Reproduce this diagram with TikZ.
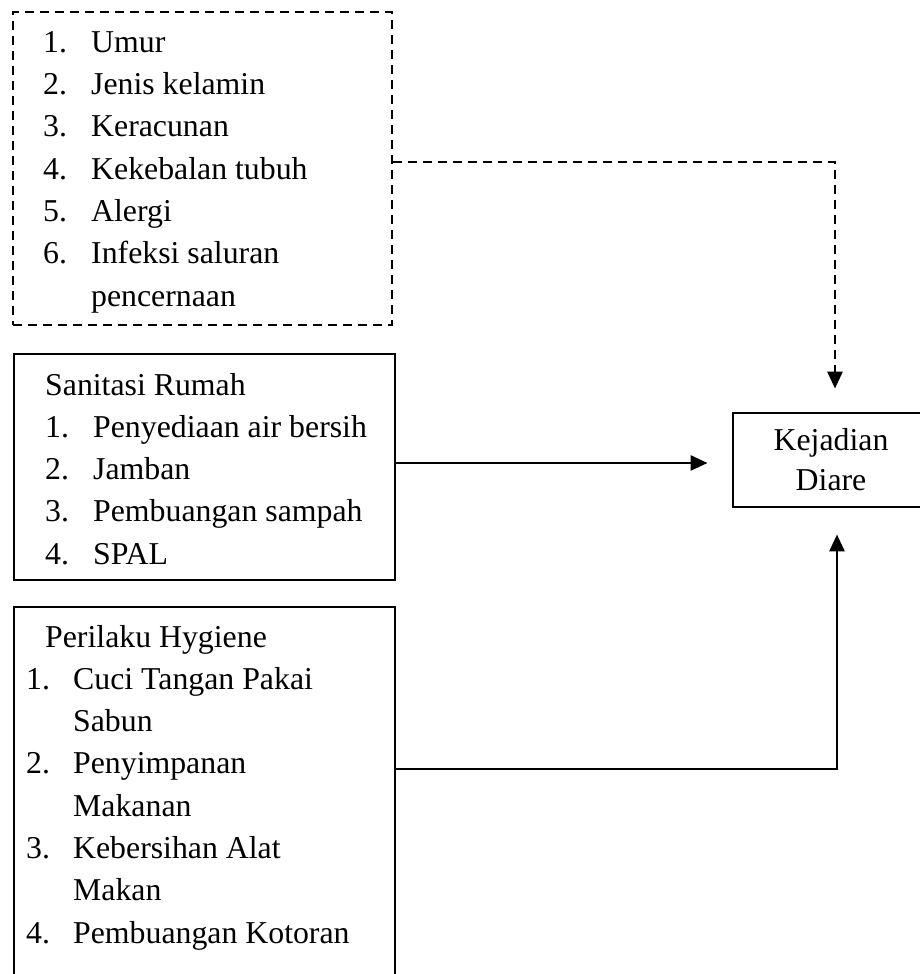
\documentclass[tikz,border=0pt]{standalone}
\usepackage{fontspec}
\setmainfont{Liberation Serif}
\usetikzlibrary{arrows.meta}

\newcommand\listfont{\fontsize{31.8}{42.3}\selectfont}
\newcommand\boxfont{\fontsize{31.8}{40}\selectfont}

\tikzset{
  boxline/.style={draw,line width=2.9pt,inner sep=0pt},
  dashline/.style={line width=2.9pt,dash pattern=on 9pt off 6pt},
  solidline/.style={line width=2.9pt},
  listtext/.style={inner sep=0pt,font=\listfont},
  arrowtip/.style={-{Triangle[length=17pt,width=15pt]}},
}

\begin{document}
\begin{tikzpicture}[x=1pt,y=-1pt]
        \useasboundingbox (0,0) rectangle (920,974);
        \clip (0,0) rectangle (920,974);
        % boxes
        \node[boxline,dashline,minimum width=379pt,minimum height=313pt] (faktor) at (202.5,168.5) {};
        \node[boxline,minimum width=381pt,minimum height=226pt] (sanitasi) at (204.5,467) {};
        \node[boxline,minimum width=381pt,minimum height=400pt] (perilaku) at (204.5,807) {};
        \node[boxline,minimum width=196pt,minimum height=94pt,font=\boxfont,align=center] (kejadian) at (831,460) {Kejadian\\Diare};
        % lists
        \node[listtext,anchor=base west] (faktorlist) at (43,52.3) {\begin{tabular}[t]{@{}p{48pt}@{}l@{}}
            1. & Umur\\
            2. & Jenis kelamin\\
            3. & Keracunan\\
            4. & Kekebalan tubuh\\
            5. & Alergi\\
            6. & Infeksi saluran\\
               & pencernaan
        \end{tabular}};
        \node[listtext,anchor=base west] (sanitasilist) at (45,395) {\begin{tabular}[t]{@{}p{48pt}@{}l@{}}
            \multicolumn{2}{@{}l@{}}{Sanitasi Rumah}\\
            1. & Penyediaan air bersih\\
            2. & Jamban\\
            3. & Pembuangan sampah\\
            4. & SPAL
        \end{tabular}};
        \node[listtext,anchor=base west] (perilakulist) at (26,647) {\begin{tabular}[t]{@{}p{47pt}@{}l@{}}
            \multicolumn{2}{@{\hspace{19pt}}l@{}}{Perilaku Hygiene}\\
            1. & Cuci Tangan Pakai\\
               & Sabun\\
            2. & Penyimpanan\\
               & Makanan\\
            3. & Kebersihan Alat\\
               & Makan\\
            4. & Pembuangan Kotoran
        \end{tabular}};
        % connectors
        \coordinate (dashtip) at ([xshift=4pt,yshift=23pt]kejadian.north);
        \coordinate (sanitip) at ([xshift=-24pt,yshift=-3pt]kejadian.west);
        \coordinate (perilakutip) at ([xshift=6pt,yshift=-26pt]kejadian.south);
        \draw[dashline,arrowtip] ([yshift=6.5pt]faktor.east) -| (dashtip);
        \draw[solidline,arrowtip] (sanitasi.east |- sanitip) -- (sanitip);
        \draw[solidline,arrowtip] ([yshift=38pt]perilaku.east) -| (perilakutip);
\end{tikzpicture}
\end{document}
